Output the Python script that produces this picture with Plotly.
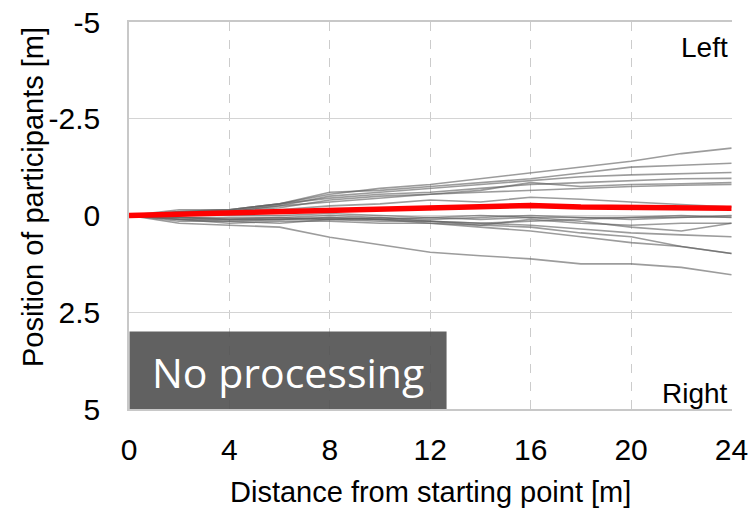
import plotly.graph_objects as go

distance = [0, 2, 4, 6, 8, 10, 12, 14, 16, 18, 20, 22, 24]

participants = [
    [0, -0.15, -0.15, -0.30, -0.55, -0.70, -0.80, -0.95, -1.10, -1.25, -1.40, -1.60, -1.74],
    [0, -0.10, -0.15, -0.30, -0.60, -0.65, -0.75, -0.85, -0.95, -1.10, -1.25, -1.30, -1.35],
    [0, -0.05, -0.10, -0.25, -0.50, -0.60, -0.70, -0.80, -0.90, -1.00, -1.05, -1.08, -1.11],
    [0, -0.10, -0.15, -0.30, -0.45, -0.55, -0.60, -0.70, -0.80, -0.85, -0.90, -0.95, -0.96],
    [0, -0.05, -0.10, -0.20, -0.40, -0.50, -0.55, -0.65, -0.85, -0.75, -0.80, -0.82, -0.85],
    [0, -0.08, -0.12, -0.25, -0.35, -0.45, -0.55, -0.60, -0.65, -0.70, -0.75, -0.78, -0.80],
    [0, -0.05, -0.10, -0.15, -0.25, -0.30, -0.40, -0.35, -0.47, -0.42, -0.35, -0.28, -0.22],
    [0, 0.05, 0.10, 0.05, 0.00, 0.05, 0.10, 0.05, 0.00, 0.05, 0.10, 0.05, 0.00],
    [0, 0.10, 0.15, 0.10, 0.10, 0.15, 0.15, 0.20, 0.15, 0.10, 0.05, 0.00, 0.05],
    [0, 0.05, 0.05, 0.05, 0.10, 0.10, 0.15, 0.25, 0.10, 0.20, 0.25, 0.20, 0.20],
    [0, 0.15, 0.15, 0.20, 0.10, 0.05, 0.15, 0.20, 0.25, 0.35, 0.45, 0.50, 0.55],
    [0, 0.10, 0.20, 0.15, 0.15, 0.20, 0.20, 0.30, 0.40, 0.55, 0.70, 0.80, 0.98],
    [0, 0.10, 0.10, 0.10, 0.05, 0.10, 0.20, 0.25, 0.30, 0.45, 0.55, 0.80, 0.98],
    [0, 0.20, 0.25, 0.30, 0.56, 0.75, 0.95, 1.04, 1.12, 1.25, 1.25, 1.34, 1.53],
    [0, 0.05, 0.10, 0.10, 0.05, 0.10, 0.05, 0.10, 0.05, 0.15, 0.30, 0.40, 0.20],
    [0, -0.05, 0.00, 0.00, -0.05, 0.00, 0.05, 0.00, 0.05, 0.05, 0.05, 0.05, 0.04],
]

mean_position = [0, -0.03, -0.06, -0.08, -0.12, -0.15, -0.18, -0.20, -0.26, -0.22, -0.20, -0.20, -0.19]

y_tickvals = [-5, -2.5, 0, 2.5, 5]
y_ticktext = ["-5", "-2.5", "0", "2.5", "5"]
x_tickvals = [0, 4, 8, 12, 16, 20, 24]

fig = go.Figure()
for p in participants:
    fig.add_trace(go.Scatter(x=distance, y=p, mode="lines",
                             line=dict(color="rgba(95,95,95,0.62)", width=1.6),
                             showlegend=False, hoverinfo="skip"))
fig.add_trace(go.Scatter(x=distance, y=mean_position, mode="lines",
                         line=dict(color="rgb(255,0,0)", width=5.5),
                         showlegend=False))

font_main = "Liberation Sans, Arial, sans-serif"

fig.update_layout(
    width=751, height=509,
    margin=dict(l=129, r=19, t=22, b=100),
    paper_bgcolor="white", plot_bgcolor="white",
    font=dict(family=font_main, size=30, color="black"),
    xaxis=dict(
        range=[0, 24.02], tickvals=x_tickvals, automargin=False,
        showgrid=True, gridcolor="#cccccc", griddash="dash", gridwidth=1,
        showline=True, linecolor="#c8c8c8", linewidth=1.6, mirror=True,
        ticks="outside", ticklen=13, tickcolor="rgba(0,0,0,0)",
        ticklabeloverflow="allow",
        zeroline=False,
        tickfont=dict(size=30),
    ),
    yaxis=dict(
        range=[5, -5], tickvals=y_tickvals, ticktext=y_ticktext, automargin=False,
        showgrid=True, gridcolor="#d4d4d4", gridwidth=1.2,
        showline=True, linecolor="#c8c8c8", linewidth=1.6,
        ticks="outside", ticklen=21, tickcolor="rgba(0,0,0,0)",
        ticklabeloverflow="allow",
        zeroline=False,
        tickfont=dict(size=30),
    ),
)

# axis titles as annotations for precise placement
fig.add_annotation(x=-0.159, y=0.548, xref="paper", yref="paper",
                   text="Position of participants [m]", textangle=-90,
                   showarrow=False, xanchor="center", yanchor="middle",
                   font=dict(size=29, color="black"))
fig.add_annotation(x=0.5, y=-0.2145, xref="paper", yref="paper",
                   text="Distance from starting point [m]",
                   showarrow=False, xanchor="center", yanchor="middle",
                   font=dict(size=29, color="black"))

fig.add_annotation(x=0.996, xref="paper", xanchor="right", y=-4.35, yref="y",
                   text="Left", showarrow=False, font=dict(size=28, color="black"))
fig.add_annotation(x=0.996, xref="paper", xanchor="right", y=4.6, yref="y",
                   text="Right", showarrow=False, font=dict(size=28, color="black"))

fig.add_shape(type="rect", xref="x", yref="y", x0=0.02, x1=12.65, y0=3.0, y1=5,
              fillcolor="rgba(80,80,80,0.9)", line=dict(width=0), layer="above")
fig.add_annotation(x=6.33, y=4.05, xref="x", yref="y", text="No processing",
                   showarrow=False,
                   font=dict(family="Open Sans, Noto Sans, sans-serif", size=41, color="white"))

# remove the default page margin so the figure fills the window exactly
fig.write_html("out.html",
               config={"displayModeBar": False},
               post_script="document.body.style.margin='0px';document.body.style.overflow='hidden';")
